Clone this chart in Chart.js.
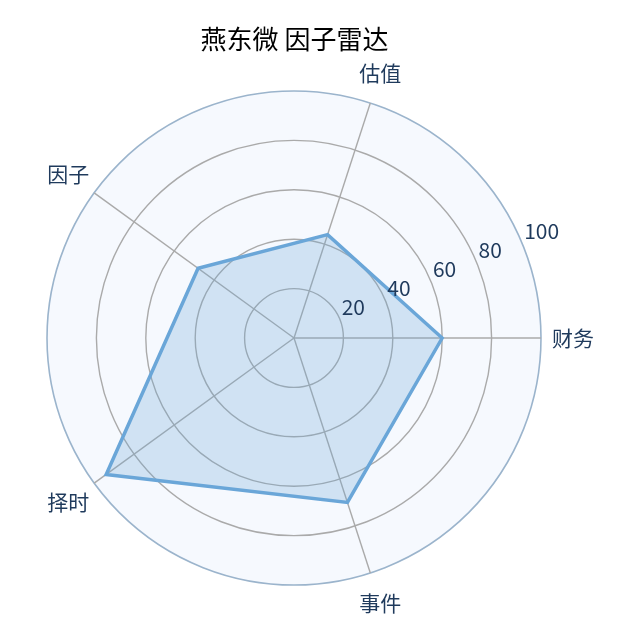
<!DOCTYPE html>
<html><head><meta charset="utf-8">
<script src="https://cdn.jsdelivr.net/npm/chart.js@4.4.1/dist/chart.umd.min.js"></script>
<style>html,body{margin:0;padding:0;background:#fff;}#wrap{width:640px;height:640px;position:relative;}</style>
</head><body><div id="wrap"><canvas id="c"></canvas></div>
<script>
const chartTitle = '燕东微 因子雷达';
const categories = ['财务', '事件', '择时', '因子', '估值'];
const scores = [60, 70, 94, 48, 44];
const tickValues = [20, 40, 60, 80, 100];

const FONT = '"Noto Sans CJK SC","Noto Sans",sans-serif';
const LABEL_COLOR = '#1f3a5c';

const labelPlugin = {
  id: 'mplLabels',
  afterDraw(chart) {
    const s = chart.scales.r;
    const ctx = chart.ctx;
    ctx.save();
    ctx.fillStyle = LABEL_COLOR;
    ctx.font = '21px ' + FONT;
    ctx.textAlign = 'center';
    ctx.textBaseline = 'middle';
    chart.data.labels.forEach((lab, i) => {
      const p = s.getPointPosition(i, s.drawingArea + 32);
      ctx.fillText(lab, p.x, p.y);
    });
    const a = 22.5 * Math.PI / 180;
    ctx.textAlign = 'left';
    tickValues.forEach(v => {
      const r = s.getDistanceFromCenterForValue(v);
      ctx.fillText(String(v), s.xCenter + r * Math.cos(a) + 2, s.yCenter - r * Math.sin(a) - 12.5);
    });
    ctx.restore();
  }
};

new Chart(document.getElementById('c'), {
  type: 'radar',
  data: {
    labels: categories,
    datasets: [{
      data: scores,
      borderColor: '#6aa6d8',
      backgroundColor: 'rgba(106,166,216,0.27)',
      borderWidth: 3.5,
      pointRadius: 0,
      pointHoverRadius: 0,
      fill: true,
      tension: 0
    }]
  },
  options: {
    responsive: true,
    maintainAspectRatio: false,
    animation: false,
    layout: { padding: { left: 47, right: 98, top: 0, bottom: 54 } },
    plugins: {
      legend: { display: false },
      tooltip: { enabled: false },
      title: {
        display: true, text: chartTitle, color: '#000',
        font: { family: FONT, size: 26, weight: 'normal' },
        padding: { top: 24, bottom: 36 }
      }
    },
    scales: {
      r: {
        min: 0, max: 100, startAngle: 90,
        backgroundColor: '#f6f9fe',
        ticks: { display: false, stepSize: 20 },
        pointLabels: { display: false },
        grid: {
          circular: true,
          color: c => (c.tick && c.tick.value === 100) ? '#9bb4cc' : '#aaaaaa',
          lineWidth: c => (c.tick && c.tick.value === 100) ? 1.6 : 1.4
        },
        angleLines: { color: '#aaaaaa', lineWidth: 1.4 }
      }
    }
  },
  plugins: [labelPlugin]
});
</script>
</body></html>
